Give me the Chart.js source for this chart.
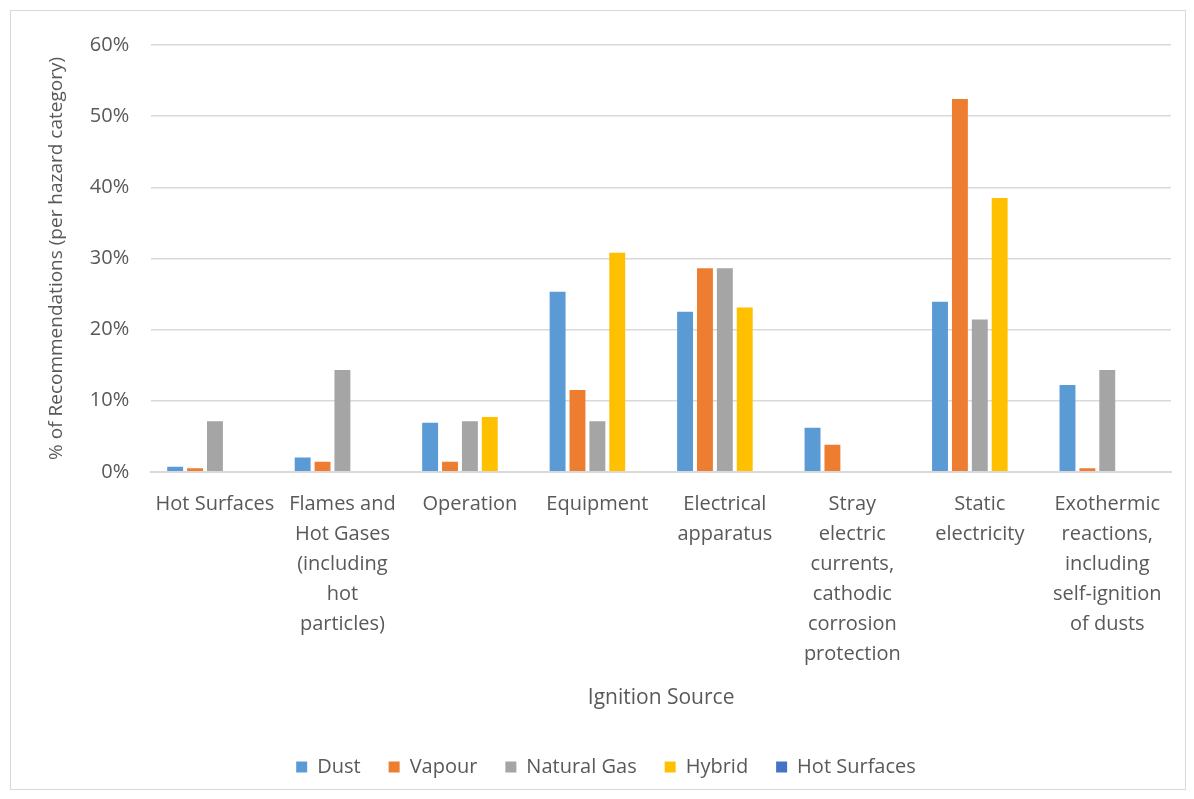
<!DOCTYPE html>
<html>
<head>
<meta charset="utf-8">
<script src="https://cdn.jsdelivr.net/npm/chart.js@4.4.0/dist/chart.umd.min.js"></script>
<style>
  html, body { margin: 0; padding: 0; background: #fff; }
  #wrap {
    position: absolute; left: 10px; top: 10px;
    width: 1174px; height: 778px;
    border: 1px solid #d9d9d9; background: #fff;
  }
</style>
</head>
<body>
<div id="wrap"><canvas id="chart"></canvas></div>
<script>
// ignition source categories (wrapped like the original axis labels)
const categories = [
    'Hot Surfaces',
    ['Flames and', 'Hot Gases', '(including', 'hot', 'particles)'],
    'Operation',
    'Equipment',
    ['Electrical', 'apparatus'],
    ['Stray', 'electric', 'currents,', 'cathodic', 'corrosion', 'protection'],
    ['Static', 'electricity'],
    ['Exothermic', 'reactions,', 'including', 'self-ignition', 'of dusts'],
];

// % of recommendations per hazard category
const dust        = [0.7, 2.0, 6.9, 25.3, 22.5, 6.2, 23.9, 12.2];
const vapour      = [0.5, 1.4, 1.4, 11.5, 28.6, 3.8, 52.4, 0.5];
const naturalGas  = [7.1, 14.3, 7.1, 7.1, 28.6, 0, 21.4, 14.3];
const hybrid      = [0, 0, 7.7, 30.8, 23.1, 0, 38.5, 0];
const hotSurfaces = [null, null, null, null, null, null, null, null];

const yTicks = [0, 10, 20, 30, 40, 50, 60];

const textColor = '#595959';
const gridColor = '#d9d9d9';
const font = '"Open Sans", Lato, sans-serif';

function series(label, data, color) {
    return {
        label: label,
        data: data,
        backgroundColor: color,
        borderColor: color,
        borderWidth: 0,
        categoryPercentage: 0.78,
        barPercentage: 0.8,
    };
}

new Chart(document.getElementById('chart'), {
    type: 'bar',
    data: {
        labels: categories,
        datasets: [
            series('Dust', dust, '#5b9bd5'),
            series('Vapour', vapour, '#ed7d31'),
            series('Natural Gas', naturalGas, '#a5a5a5'),
            series('Hybrid', hybrid, '#ffc000'),
            series('Hot Surfaces', hotSurfaces, '#4472c4'),
        ]
    },
    options: {
        responsive: true,
        maintainAspectRatio: false,
        animation: false,
        layout: {
            padding: { left: 30, right: 14, top: 18, bottom: 2 }
        },
        scales: {
            x: {
                grid: { display: false, drawTicks: false },
                border: { color: gridColor, width: 2 },
                ticks: {
                    color: textColor,
                    font: { family: font, size: 20, lineHeight: 1.5 },
                    maxRotation: 0,
                    autoSkip: false,
                    padding: 17,
                },
                title: {
                    display: true,
                    text: 'Ignition Source',
                    color: textColor,
                    font: { family: font, size: 21 },
                    padding: { top: 0, bottom: 18 },
                },
            },
            y: {
                min: 0,
                max: 60,
                afterBuildTicks: (axis) => { axis.ticks = yTicks.map(v => ({ value: v })); },
                grid: { color: gridColor, lineWidth: 1.5, drawTicks: false },
                border: { display: false },
                ticks: {
                    color: textColor,
                    font: { family: font, size: 20 },
                    padding: 22,
                    callback: (v) => v + '%',
                },
                title: {
                    display: true,
                    text: '% of Recommendations (per hazard category)',
                    color: textColor,
                    font: { family: font, size: 19 },
                    padding: { top: 4, bottom: 0 },
                },
            },
        },
        plugins: {
            legend: {
                position: 'bottom',
                labels: {
                    color: textColor,
                    font: { family: font, size: 20 },
                    boxWidth: 11,
                    boxHeight: 11,
                    padding: 28,
                },
            },
            tooltip: { enabled: false },
        },
    },
});
</script>
</body>
</html>
